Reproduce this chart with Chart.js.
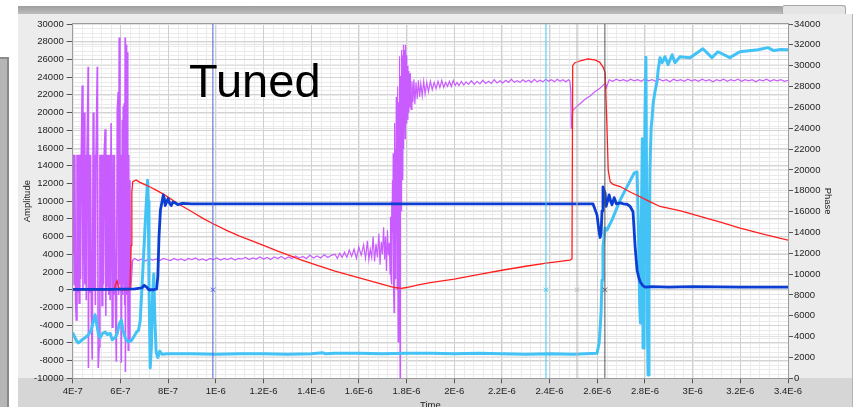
<!DOCTYPE html>
<html>
<head>
<meta charset="utf-8">
<script src="https://cdn.jsdelivr.net/npm/chart.js@4.4.1/dist/chart.umd.min.js"></script>
<style>
html,body{margin:0;padding:0;background:#fff;width:859px;height:407px;overflow:hidden;font-family:"Liberation Sans",Arial,sans-serif}
#panel{position:absolute;left:18px;top:14px;width:834px;height:393px;background:#ececec;border-right:1px solid #b4b4b4}
#lower{position:absolute;left:18px;top:378px;width:834px;height:29px;background:#d6d6d6}
#bar{position:absolute;left:18px;top:6px;width:764px;height:8px;background:linear-gradient(#9e9e9e,#bcbcbc)}
#btns{position:absolute;left:782px;top:5px;width:62px;height:8px;border:1px solid #a8a8a8;border-bottom:none;border-radius:3px 3px 0 0;background:#e4e4e4}
#side{position:absolute;left:-10px;top:57px;width:15px;height:400px;background:#b6b6b6;border:2px solid #8a8a8a}
#tuned{position:absolute;left:189px;top:57px;font-size:47px;line-height:47px;color:#000}
canvas{position:absolute;left:0;top:0}
</style>
</head>
<body>
<div id="panel"></div>
<div id="lower"></div>
<div id="bar"></div>
<div id="btns"></div>
<div id="side"></div>
<canvas id="grafico" width="859" height="407"></canvas>
<div id="tuned">Tuned</div>
<script>
// time in ns
var xTicks = [400,600,800,1000,1200,1400,1600,1800,2000,2200,2400,2600,2800,3000,3200,3400];
var xTickLabels = ["4E-7","6E-7","8E-7","1E-6","1.2E-6","1.4E-6","1.6E-6","1.8E-6","2E-6","2.2E-6","2.4E-6","2.6E-6","2.8E-6","3E-6","3.2E-6","3.4E-6"];
var ampTicks = [-10000,-8000,-6000,-4000,-2000,0,2000,4000,6000,8000,10000,12000,14000,16000,18000,20000,22000,24000,26000,28000,30000];
var phaseTicks = [0,2000,4000,6000,8000,10000,12000,14000,16000,18000,20000,22000,24000,26000,28000,30000,32000,34000];

var redTime = [400,560,575,580,586,592,598,640,645,648,652,666,680,700,725,750,780,800,842,900,950,989,1050,1100,1144,1200,1260,1325,1354,1420,1500,1606,1700,1750,1778,1800,1850,1900,2000,2100,2200,2300,2386,2486,2494,2497,2505,2530,2560,2590,2610,2625,2633,2640,2646,2654,2666,2696,2740,2780,2820,2863,2950,3031,3120,3199,3300,3400];
var redAmp = [0,0,50,600,1000,300,0,0,5000,11000,12200,12400,12150,11900,11600,11250,10800,10450,9700,8800,8000,7450,6650,6050,5600,5000,4350,3700,3400,2800,2100,1300,600,250,150,250,550,800,1200,1700,2200,2650,3000,3350,3500,25300,25600,25850,26050,25950,25700,25100,24500,19000,13500,12200,11900,11650,11000,10500,9950,9400,8900,8270,7600,6960,6250,5600];

var blueTime = [400,560,660,690,700,710,720,740,752,757,762,768,775,780,785,788,794,800,806,813,820,830,840,860,900,1200,1600,2000,2400,2582,2599,2608,2612,2616,2620,2624,2628,2633,2637,2642,2650,2656,2662,2671,2680,2696,2710,2725,2738,2750,2759,2767,2775,2780,2790,2801,2830,2900,3000,3200,3400];
var blueAmp = [50,50,100,200,500,300,0,0,100,1500,6000,9000,10000,10700,10200,9500,9900,10300,9800,9500,9900,9800,9600,9750,9700,9700,9700,9700,9700,9700,8450,6500,5900,6300,8900,11600,11300,10900,9400,9900,10700,10000,9600,10400,9700,9800,9700,9650,9400,8800,4800,2200,1300,900,500,300,350,300,350,300,300];

var cyanTime = [400,405,410,416,423,430,440,452,465,477,485,494,500,508,515,525,536,545,557,566,578,587,595,604,610,620,633,645,657,668,676,683,690,700,708,714,717,720,725,730,735,740,744,750,757,765,775,800,900,1000,1100,1200,1300,1400,1450,1460,1500,1600,1700,1800,1900,2000,2100,2200,2300,2400,2500,2599,2608,2616,2620,2624,2633,2641,2662,2696,2725,2755,2767,2773,2778,2781,2785,2789,2792,2796,2800,2804,2807,2810,2813,2817,2821,2826,2830,2835,2842,2851,2855,2863,2872,2884,2897,2914,2926,2947,2989,3043,3081,3106,3156,3198,3274,3316,3340,3370,3400];
var cyanPhase = [4400,4100,3900,3600,3400,3500,3700,3900,4150,4600,5300,6100,5300,4200,3900,4300,4450,4200,4300,3700,3900,4300,5200,5600,4700,3900,3500,3600,4000,4450,4600,5500,8500,13000,16500,19000,17000,9000,1000,3000,8000,10000,6000,2500,2000,2600,2300,2350,2350,2300,2350,2350,2300,2350,2450,2350,2400,2400,2350,2400,2400,2350,2400,2350,2300,2350,2300,2400,3400,6250,9440,12600,14420,14230,15200,17100,18390,19700,19800,14000,7000,5300,15000,23000,2900,12000,25000,30800,18000,6000,320,9000,20000,24000,25000,26500,27500,28500,29500,30770,30290,30860,30100,31050,30290,30860,30770,31630,30770,31340,30770,31340,31530,31730,31450,31550,31530];

// purple: clipped noise at the start
var purpleStartTime = [400,403,406,409,412,415,418,421,424,427,430,433,436,440,443,446,448,451,454,457,460,465,466,469,472,475,478,482,486,489,492,495,498,503,504,507,511,514,517,520,523,526,529,532,536,539,542,545,548,551,554,557,561,566,569,572,575,579,583,587,591,593,595,598,601,604,608,610,612,614,616,618,620,621,624,626,628,631,633,635,637,640,643,646,650,653];
var purpleStartPhase = [12000,21450,9000,21450,7500,5600,21450,8200,21450,7200,21450,9500,21450,28100,8500,21450,25500,9000,21450,7500,21450,29900,1000,21450,8200,21450,6500,1800,25500,8500,21450,7000,21450,29900,25800,1000,3000,21450,8500,21450,7000,21450,9000,21450,23900,6000,21450,8800,21450,8000,21450,7500,24500,4900,21450,8000,21450,7500,1600,25800,27500,8000,32700,9000,21450,1500,24800,8000,26100,9000,26400,7000,32700,600,32000,8000,31300,9000,2700,21450,3700,19000,8500,9500,11200,11400];

// purple: rest of the trace
var purpleTime = [653,
  660,675,690,705,720,735,750,765,780,795,810,825,840,855,870,885,900,915,930,945,960,975,990,1005,1020,1035,1050,1065,1080,1095,1110,1125,1140,1155,1170,1185,1200,1215,1230,1245,1260,1275,1290,1305,1320,1335,1350,1365,1380,1395,1410,1425,1440,1455,1470,1485,
  1500,1510,1520,1530,1540,1550,1560,1570,1580,1590,1600,1610,1620,1628,1636,1642,1648,1654,1660,1666,1672,1678,1684,1689,1694,1699,1704,1708,1712,1716,1720,1724,
  1728,1731,1733,1735,1737,1739,1741,1743,1744,1746,1748,1749,1751,1752,1754,1755,1757,1758,1760,1761,1762,1764,1765,1766,1767,1768,1769,1770,1771,1772,1773,1774,1775,1776,1777,1778,1779,1781,1782,1784,1785,1787,1788,1790,1791,1793,1794,1796,1798,1800,1802,1804,1806,1808,1810,1812,1814,1816,1819,
  1823,1827,1831,1835,1840,1845,1850,1855,1860,1866,1872,1878,1885,1892,
  1900,1908,1916,1924,1932,1940,1948,1956,1964,1972,1980,1988,1996,2004,2012,2020,2030,2040,2050,2060,2072,2084,2096,2108,2120,2132,2144,2156,2168,2180,2192,2204,2216,2228,2240,2252,2264,2276,2288,2300,2312,2324,2336,2348,2360,2372,2384,2396,2408,2420,2432,2444,2456,2468,2480,2485,
  2489,2491,2494,2497,2510,2530,2550,2570,2590,2610,2628,2634,2638,2643,
  2650,2665,2680,2695,2710,2725,2740,2755,2770,2785,2800,2815,2830,2845,2860,2875,2890,2905,2920,2935,2950,2965,2980,2995,3010,3025,3040,3055,3070,3085,3100,3115,3130,3145,3160,3175,3190,3205,3220,3235,3250,3265,3280,3295,3310,3325,3340,3355,3370,3385,3400];
var purplePhase = [11400,
  11500,11300,11450,11250,11500,11350,11450,11300,11500,11400,11300,11500,11350,11450,11300,11500,11400,11550,11350,11450,11300,11500,11400,11550,11350,11500,11400,11550,11350,11500,11450,11600,11400,11550,11450,11650,11450,11600,11400,11650,11500,11700,11450,11650,11500,11750,11550,11700,11500,11800,11550,11750,11550,11850,11600,11800,
  11900,11500,12000,11600,12100,11600,12300,11700,12400,11500,12600,11800,12800,11500,13200,11400,12400,11600,13600,11200,12900,11600,13900,10900,13100,11900,14500,11400,13600,10300,14200,11800,
  13000,10000,15500,9500,17000,9000,19000,14000,21600,8000,6300,20000,24500,11000,22000,9500,27000,14000,25000,8500,28000,12000,3500,24000,26500,10000,23000,15000,30900,12000,30,27000,18000,29000,20000,31500,16000,30000,21000,31000,19000,32000,22000,30500,24000,31500,23000,32000,24500,31000,25000,30000,24800,29500,25500,29200,26000,29300,25800,
  28500,26500,28700,26300,28400,26800,28600,27000,28300,27100,28500,27300,28400,27500,
  28500,27700,28400,27800,28500,27900,28600,27900,28400,28000,28500,28000,28600,28100,28400,28100,28500,28150,28450,28200,28550,28200,28500,28250,28600,28300,28500,28300,28650,28350,28550,28350,28600,28400,28700,28400,28550,28400,28650,28450,28600,28400,28700,28450,28600,28450,28700,28500,28650,28450,28700,28500,28650,28450,28650,28550,
  27600,24000,24300,25700,26000,26400,26800,27100,27500,27800,28200,28300,27900,28200,
  28650,28500,28700,28550,28650,28500,28700,28550,28650,28500,28750,28550,28650,28500,28700,28550,28650,28450,28700,28550,28650,28500,28700,28550,28650,28500,28700,28550,28650,28450,28650,28550,28700,28500,28650,28550,28700,28500,28650,28550,28650,28450,28650,28550,28700,28500,28650,28550,28650,28500,28600];

var cursorTime = [988,2385,2515,2632];
var cursorColors = ["#4c60e6","#3ccbf0","#b8b8b8","#565656"];

function pts(t, v) {
  return t.map(function(x, i){ return {x: x, y: v[i]}; });
}

var fonte = '"Liberation Sans", Arial, sans-serif';
Chart.defaults.font.family = fonte;

var fundo = {
  id: 'fundo',
  beforeDraw: function(chart) {
    var a = chart.chartArea, ctx = chart.ctx;
    var sx = chart.scales.x, sa = chart.scales.amp;
    ctx.save();
    ctx.fillStyle = '#ffffff';
    ctx.fillRect(a.left, a.top, a.right - a.left, a.bottom - a.top);
    ctx.strokeStyle = '#ebebeb';
    ctx.lineWidth = 1;
    ctx.beginPath();
    for (var t = xTicks[0]; t <= xTicks[xTicks.length - 1]; t += 40) {
      var px = Math.round(sx.getPixelForValue(t)) + 0.5;
      ctx.moveTo(px, a.top); ctx.lineTo(px, a.bottom);
    }
    for (var v = ampTicks[0]; v <= ampTicks[ampTicks.length - 1]; v += 500) {
      var py = Math.round(sa.getPixelForValue(v)) + 0.5;
      ctx.moveTo(a.left, py); ctx.lineTo(a.right, py);
    }
    ctx.stroke();
    ctx.restore();
  },
  afterDraw: function(chart) {
    var a = chart.chartArea, ctx = chart.ctx;
    ctx.save();
    ctx.strokeStyle = '#9c9c9c';
    ctx.lineWidth = 1;
    ctx.strokeRect(Math.round(a.left) - 0.5, Math.round(a.top) - 0.5, Math.round(a.right - a.left) + 1, Math.round(a.bottom - a.top) + 1);
    ctx.restore();
  }
};

var conjuntos = [];
cursorTime.forEach(function(t, i) {
  conjuntos.push({
    data: [{x: t, y: ampTicks[0]}, {x: t, y: ampTicks[ampTicks.length - 1]}],
    yAxisID: 'amp', borderColor: cursorColors[i], borderWidth: 1, pointRadius: 0, showLine: true
  });
});
conjuntos.push({
  data: cursorTime.map(function(t){ return {x: t, y: 0}; }),
  yAxisID: 'amp', showLine: false, pointStyle: 'crossRot', pointRadius: 3,
  pointBorderColor: cursorColors, pointBorderWidth: 1
});
conjuntos.push({ data: pts(blueTime, blueAmp), yAxisID: 'amp', borderColor: '#0b3fd4', borderWidth: 2.8, pointRadius: 0, showLine: true, borderJoinStyle: 'round' });
conjuntos.push({ data: pts(redTime, redAmp), yAxisID: 'amp', borderColor: '#ff1f1f', borderWidth: 1.3, pointRadius: 0, showLine: true });
conjuntos.push({ data: pts(cyanTime, cyanPhase), yAxisID: 'phase', borderColor: '#43c2f6', borderWidth: 3, pointRadius: 0, showLine: true, borderJoinStyle: 'round' });
conjuntos.push({ data: pts(purpleTime, purplePhase), yAxisID: 'phase', borderColor: '#c95cff', borderWidth: 1.2, pointRadius: 0, showLine: true });
conjuntos.push({ data: pts(purpleStartTime, purpleStartPhase), yAxisID: 'phase', borderColor: '#c95cff', borderWidth: 1.6, pointRadius: 0, showLine: true });

var fonteTick = {family: fonte, size: 9.5};

var grafico = new Chart(document.getElementById('grafico').getContext('2d'), {
  type: 'scatter',
  data: { datasets: conjuntos },
  options: {
    responsive: false,
    animation: false,
    events: [],
    layout: { padding: { left: 18, right: 13, top: 24, bottom: 0 } },
    plugins: { legend: { display: false }, tooltip: { enabled: false } },
    scales: {
      x: {
        type: 'linear', min: xTicks[0], max: xTicks[xTicks.length - 1],
        afterBuildTicks: function(s){ s.ticks = xTicks.map(function(v){ return {value: v}; }); },
        afterFit: function(s){ s.height = 28.7; },
        ticks: { autoSkip: false, maxRotation: 0, padding: 2, color: '#1e1e1e', font: fonteTick,
          callback: function(v, i){ return xTickLabels[i]; } },
        grid: { color: '#cfcfcf', tickColor: '#555', tickLength: 5 },
        border: { color: '#9c9c9c' },
        title: { display: true, text: 'Time', color: '#1e1e1e', font: fonteTick, padding: { top: 0, bottom: -4 } }
      },
      amp: {
        position: 'left', min: ampTicks[0], max: ampTicks[ampTicks.length - 1],
        afterBuildTicks: function(s){ s.ticks = ampTicks.map(function(v){ return {value: v}; }); },
        afterFit: function(s){ s.width = 54.7; },
        ticks: { padding: 3, color: '#1e1e1e', font: fonteTick, callback: function(v){ return String(v); } },
        grid: { color: '#d4d4d4', tickColor: '#555', tickLength: 6 },
        border: { color: '#9c9c9c' },
        title: { display: true, text: 'Amplitude', color: '#1e1e1e', font: fonteTick, padding: { top: 4, bottom: 0 } }
      },
      phase: {
        position: 'right', min: phaseTicks[0], max: phaseTicks[phaseTicks.length - 1],
        afterBuildTicks: function(s){ s.ticks = phaseTicks.map(function(v){ return {value: v}; }); },
        afterFit: function(s){ s.width = 58; },
        ticks: { padding: 1, color: '#1e1e1e', font: fonteTick, callback: function(v){ return String(v); } },
        grid: { color: '#e2e2e2', tickColor: '#555', tickLength: 5 },
        border: { color: '#9c9c9c' },
        title: { display: true, text: 'Phase', color: '#1e1e1e', font: fonteTick, padding: { top: 12.3, bottom: 0 } }
      }
    }
  },
  plugins: [fundo]
});
</script>
</body>
</html>
